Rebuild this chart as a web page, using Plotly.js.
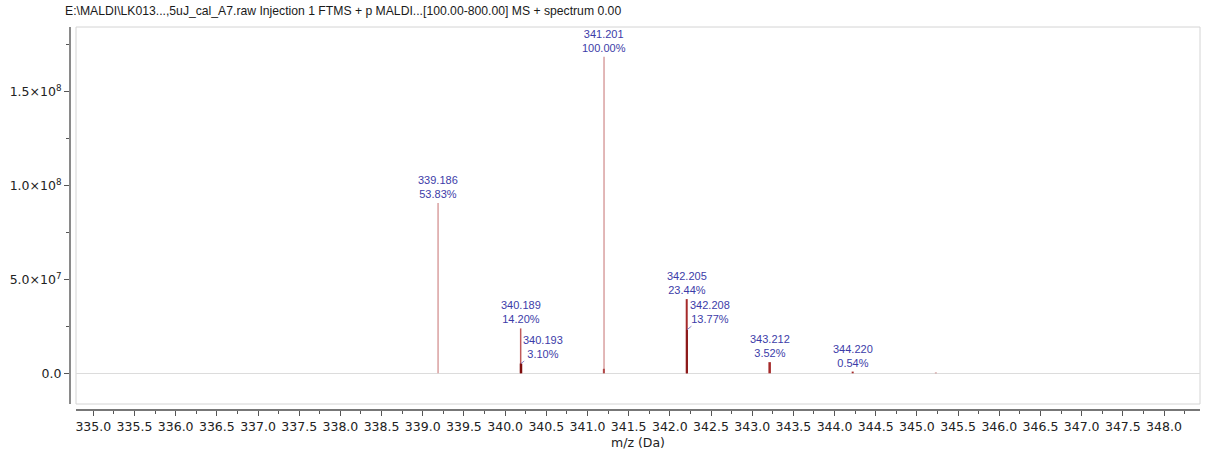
<!DOCTYPE html>
<html>
<head>
<meta charset="utf-8">
<script src="https://cdn.plot.ly/plotly-3.0.1.min.js"></script>
<style>html,body{margin:0;padding:0;background:#fff;}#chart{width:1212px;height:459px;}</style>
</head>
<body>
<div id="chart"></div>
<script>
// ---- data ----
const chartTitle = "E:\\MALDI\\LK013...,5uJ_cal_A7.raw Injection 1 FTMS + p MALDI...[100.00-800.00] MS + spectrum 0.00";
const peakMz = [339.186, 340.189, 340.193, 341.201, 342.205, 342.208, 343.212, 344.220];
const peakRelAbundance = [53.83, 14.20, 3.10, 100.00, 23.44, 13.77, 3.52, 0.54];
const peakIntensity = [9.07e7, 2.39e7, 5.2e6, 1.685e8, 3.95e7, 2.32e7, 5.93e6, 9.1e5];
const minorMz = [341.199, 345.230];
const minorIntensity = [2.4e6, 4.0e5];
const yTickVals = [0, 5e7, 1e8, 1.5e8];
const yTickText = ["0.0", "5.0×10<sup>7</sup>", "1.0×10<sup>8</sup>", "1.5×10<sup>8</sup>"];
const xAxisTitle = "m/z (Da)";

// ---- styles ----
const peakColors = ["#d9a0a0", "#c05a5a", "#7d0c0c", "#d9a0a0", "#a52a2a", "#8b1a1a", "#a52a2a", "#a52a2a"];
const peakWidths = [1.5, 1.5, 2.5, 1.5, 2, 2, 2.5, 2];
const minorColors = ["#b04848", "#c47a7a"];
const minorWidths = [2, 2];
// label placement: null = centered above the peak, else [ax, ay] pixel offset with connector
const labelOffsets = [null, null, [22, -17], null, null, [23, -18], null, null];

const traces = [];
peakMz.forEach((m, i) => {
  traces.push({
    type: "scatter", mode: "lines", x: [m, m], y: [0, peakIntensity[i]],
    line: {color: peakColors[i], width: peakWidths[i]}, hoverinfo: "x+y", showlegend: false
  });
});
minorMz.forEach((m, i) => {
  traces.push({
    type: "scatter", mode: "lines", x: [m, m], y: [0, minorIntensity[i]],
    line: {color: minorColors[i], width: minorWidths[i]}, hoverinfo: "x+y", showlegend: false
  });
});

const labelFont = {family: "Liberation Sans, Arial, sans-serif", size: 11, color: "#3c3ca8"};
const annotations = peakMz.map((m, i) => {
  const txt = m.toFixed(3) + "<br>" + peakRelAbundance[i].toFixed(2) + "%";
  const off = labelOffsets[i];
  if (off) {
    return {x: m, y: peakIntensity[i], xref: "x", yref: "y", text: txt, showarrow: true,
      ax: off[0], ay: off[1], arrowhead: 0, arrowwidth: 0.8, arrowcolor: "#6a6ac0",
      standoff: 0, font: labelFont, align: "center"};
  }
  return {x: m, y: peakIntensity[i], xref: "x", yref: "y", text: txt, showarrow: false,
    xanchor: "center", yanchor: "bottom", yshift: 1, font: labelFont, align: "center"};
});

const W = 1212, H = 459;
const mL = 70, mR = 10, mT = 27, mB = 49;
const pw = W - mL - mR, ph = H - mT - mB;

const layout = {
  width: W, height: H,
  margin: {l: mL, r: mR, t: mT, b: mB, pad: 0},
  paper_bgcolor: "#ffffff", plot_bgcolor: "#ffffff",
  showlegend: false,
  title: {
    text: chartTitle, xref: "container", yref: "container",
    x: 65 / W, xanchor: "left", y: 1 - 11 / H, yanchor: "middle",
    font: {family: "Liberation Sans, Arial, sans-serif", size: 12.2, color: "#1a1a1a"}
  },
  xaxis: {
    domain: [6 / pw, (pw - 2) / pw],
    anchor: "free", position: 0,
    range: [334.79, 348.437],
    tickmode: "linear", tick0: 335, dtick: 0.5, tickformat: ".1f",
    ticks: "outside", ticklen: 5, tickwidth: 1, tickcolor: "#555555",
    minor: {ticks: "outside", ticklen: 3, tickwidth: 1, tickcolor: "#555555", dtick: 0.25, tick0: 335, showgrid: false},
    showline: true, linecolor: "#777777", linewidth: 2,
    showgrid: false, zeroline: false,
    tickfont: {family: "DejaVu Sans, sans-serif", size: 12.5, color: "#222222"},
    title: {text: xAxisTitle, standoff: 4, font: {family: "DejaVu Sans, sans-serif", size: 12.5, color: "#222222"}}
  },
  yaxis: {
    domain: [6 / ph, 1],
    anchor: "free", position: 0,
    range: [-1.635e7, 1.844e8],
    tickmode: "array", tickvals: yTickVals, ticktext: yTickText,
    ticks: "outside", ticklen: 5, tickwidth: 1, tickcolor: "#555555",
    minor: {ticks: "outside", ticklen: 3, tickwidth: 1, tickcolor: "#555555", dtick: 2.5e7, tick0: 0, showgrid: false},
    showline: true, linecolor: "#8a8a8a", linewidth: 2,
    showgrid: false,
    zeroline: true, zerolinecolor: "#dcdcdc", zerolinewidth: 1,
    tickfont: {family: "DejaVu Sans, sans-serif", size: 12.5, color: "#222222"}
  },
  shapes: [{
    type: "rect", xref: "x domain", yref: "y domain", x0: 0, x1: 1, y0: 0, y1: 1,
    line: {color: "#d4d4d4", width: 1}, layer: "below"
  }],
  annotations: annotations
};

Plotly.newPlot("chart", traces, layout, {displayModeBar: false, staticPlot: true});
</script>
</body>
</html>
